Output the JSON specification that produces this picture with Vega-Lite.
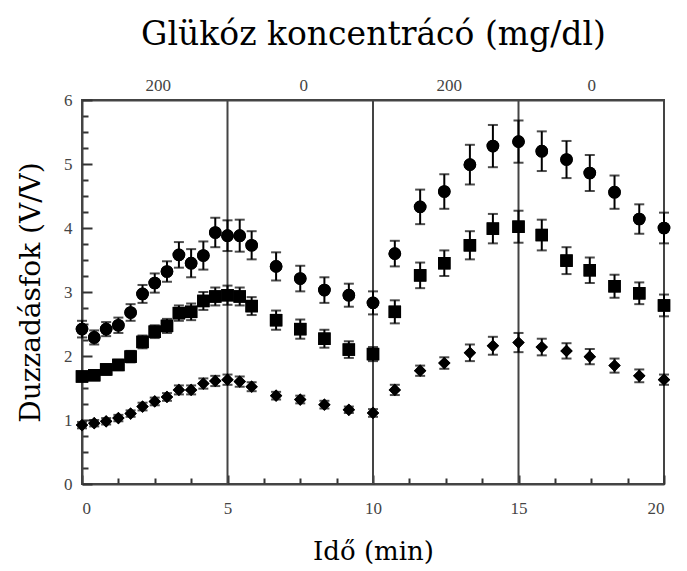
{
  "$schema": "https://vega.github.io/schema/vega-lite/v6.json",
  "autosize": "none",
  "width": 582,
  "height": 384,
  "padding": {"left": 82, "top": 100, "right": 23, "bottom": 87},
  "background": "white",
  "config": {
    "view": {"stroke": "#444", "strokeWidth": 2},
    "axis": {"domainColor": "#444", "domainWidth": 2, "tickColor": "#444", "tickWidth": 2, "tickOpacity": 1, "grid": false,
      "labelFont": "Liberation Serif", "labelFontSize": 17, "labelColor": "#444",
      "titleFont": "DejaVu Serif", "titleFontSize": 28, "titleFontWeight": "normal", "titleColor": "black"}
  },
  "datasets": {
    "pts": [
      {"s": "circle", "t": 0, "v": 2.42, "e": 0.13}, {"s": "circle", "t": 0.42, "v": 2.29, "e": 0.11}, {"s": "circle", "t": 0.83, "v": 2.42, "e": 0.11},
      {"s": "circle", "t": 1.25, "v": 2.48, "e": 0.12}, {"s": "circle", "t": 1.67, "v": 2.68, "e": 0.13}, {"s": "circle", "t": 2.08, "v": 2.97, "e": 0.14},
      {"s": "circle", "t": 2.5, "v": 3.14, "e": 0.15}, {"s": "circle", "t": 2.92, "v": 3.32, "e": 0.16}, {"s": "circle", "t": 3.33, "v": 3.58, "e": 0.2},
      {"s": "circle", "t": 3.75, "v": 3.45, "e": 0.22}, {"s": "circle", "t": 4.17, "v": 3.57, "e": 0.22}, {"s": "circle", "t": 4.58, "v": 3.93, "e": 0.23},
      {"s": "circle", "t": 5.0, "v": 3.88, "e": 0.24}, {"s": "circle", "t": 5.42, "v": 3.88, "e": 0.25}, {"s": "circle", "t": 5.83, "v": 3.73, "e": 0.22},
      {"s": "circle", "t": 6.67, "v": 3.40, "e": 0.22}, {"s": "circle", "t": 7.5, "v": 3.21, "e": 0.2}, {"s": "circle", "t": 8.33, "v": 3.03, "e": 0.2},
      {"s": "circle", "t": 9.17, "v": 2.95, "e": 0.18}, {"s": "circle", "t": 10.0, "v": 2.83, "e": 0.18}, {"s": "circle", "t": 10.75, "v": 3.60, "e": 0.2},
      {"s": "circle", "t": 11.62, "v": 4.33, "e": 0.27}, {"s": "circle", "t": 12.45, "v": 4.57, "e": 0.27}, {"s": "circle", "t": 13.33, "v": 4.99, "e": 0.31},
      {"s": "circle", "t": 14.12, "v": 5.28, "e": 0.33}, {"s": "circle", "t": 15.0, "v": 5.35, "e": 0.33}, {"s": "circle", "t": 15.8, "v": 5.20, "e": 0.31},
      {"s": "circle", "t": 16.65, "v": 5.07, "e": 0.29}, {"s": "circle", "t": 17.45, "v": 4.86, "e": 0.28}, {"s": "circle", "t": 18.3, "v": 4.56, "e": 0.26},
      {"s": "circle", "t": 19.15, "v": 4.14, "e": 0.23}, {"s": "circle", "t": 20.0, "v": 4.0, "e": 0.24},
      {"s": "square", "t": 0, "v": 1.68, "e": 0.07}, {"s": "square", "t": 0.42, "v": 1.70, "e": 0.07}, {"s": "square", "t": 0.83, "v": 1.79, "e": 0.08},
      {"s": "square", "t": 1.25, "v": 1.86, "e": 0.08}, {"s": "square", "t": 1.67, "v": 1.99, "e": 0.09}, {"s": "square", "t": 2.08, "v": 2.22, "e": 0.1},
      {"s": "square", "t": 2.5, "v": 2.38, "e": 0.1}, {"s": "square", "t": 2.92, "v": 2.47, "e": 0.11}, {"s": "square", "t": 3.33, "v": 2.67, "e": 0.12},
      {"s": "square", "t": 3.75, "v": 2.69, "e": 0.13}, {"s": "square", "t": 4.17, "v": 2.86, "e": 0.14}, {"s": "square", "t": 4.58, "v": 2.93, "e": 0.14},
      {"s": "square", "t": 5.0, "v": 2.95, "e": 0.15}, {"s": "square", "t": 5.42, "v": 2.93, "e": 0.14}, {"s": "square", "t": 5.83, "v": 2.78, "e": 0.14},
      {"s": "square", "t": 6.67, "v": 2.56, "e": 0.15}, {"s": "square", "t": 7.5, "v": 2.42, "e": 0.15}, {"s": "square", "t": 8.33, "v": 2.27, "e": 0.14},
      {"s": "square", "t": 9.17, "v": 2.10, "e": 0.13}, {"s": "square", "t": 10.0, "v": 2.03, "e": 0.11}, {"s": "square", "t": 10.75, "v": 2.69, "e": 0.18},
      {"s": "square", "t": 11.62, "v": 3.26, "e": 0.2}, {"s": "square", "t": 12.45, "v": 3.45, "e": 0.2}, {"s": "square", "t": 13.33, "v": 3.73, "e": 0.22},
      {"s": "square", "t": 14.12, "v": 3.99, "e": 0.23}, {"s": "square", "t": 15.0, "v": 4.02, "e": 0.25}, {"s": "square", "t": 15.8, "v": 3.89, "e": 0.24},
      {"s": "square", "t": 16.65, "v": 3.49, "e": 0.21}, {"s": "square", "t": 17.45, "v": 3.34, "e": 0.2}, {"s": "square", "t": 18.3, "v": 3.09, "e": 0.18},
      {"s": "square", "t": 19.15, "v": 2.98, "e": 0.17}, {"s": "square", "t": 20.0, "v": 2.79, "e": 0.17},
      {"s": "diamond", "t": 0, "v": 0.92, "e": 0.05}, {"s": "diamond", "t": 0.42, "v": 0.95, "e": 0.05}, {"s": "diamond", "t": 0.83, "v": 0.98, "e": 0.05},
      {"s": "diamond", "t": 1.25, "v": 1.03, "e": 0.05}, {"s": "diamond", "t": 1.67, "v": 1.10, "e": 0.05}, {"s": "diamond", "t": 2.08, "v": 1.21, "e": 0.06},
      {"s": "diamond", "t": 2.5, "v": 1.29, "e": 0.06}, {"s": "diamond", "t": 2.92, "v": 1.36, "e": 0.06}, {"s": "diamond", "t": 3.33, "v": 1.47, "e": 0.07},
      {"s": "diamond", "t": 3.75, "v": 1.47, "e": 0.07}, {"s": "diamond", "t": 4.17, "v": 1.57, "e": 0.08}, {"s": "diamond", "t": 4.58, "v": 1.61, "e": 0.08},
      {"s": "diamond", "t": 5.0, "v": 1.63, "e": 0.08}, {"s": "diamond", "t": 5.42, "v": 1.60, "e": 0.08}, {"s": "diamond", "t": 5.83, "v": 1.52, "e": 0.07},
      {"s": "diamond", "t": 6.67, "v": 1.38, "e": 0.06}, {"s": "diamond", "t": 7.5, "v": 1.32, "e": 0.06}, {"s": "diamond", "t": 8.33, "v": 1.24, "e": 0.06},
      {"s": "diamond", "t": 9.17, "v": 1.16, "e": 0.05}, {"s": "diamond", "t": 10.0, "v": 1.11, "e": 0.06}, {"s": "diamond", "t": 10.75, "v": 1.47, "e": 0.08},
      {"s": "diamond", "t": 11.62, "v": 1.77, "e": 0.08}, {"s": "diamond", "t": 12.45, "v": 1.89, "e": 0.09}, {"s": "diamond", "t": 13.33, "v": 2.05, "e": 0.13},
      {"s": "diamond", "t": 14.12, "v": 2.16, "e": 0.14}, {"s": "diamond", "t": 15.0, "v": 2.21, "e": 0.15}, {"s": "diamond", "t": 15.8, "v": 2.14, "e": 0.13},
      {"s": "diamond", "t": 16.65, "v": 2.08, "e": 0.12}, {"s": "diamond", "t": 17.45, "v": 1.99, "e": 0.12}, {"s": "diamond", "t": 18.3, "v": 1.85, "e": 0.11},
      {"s": "diamond", "t": 19.15, "v": 1.69, "e": 0.1}, {"s": "diamond", "t": 20.0, "v": 1.63, "e": 0.08}
    ],
    "lines": [{"t": 5}, {"t": 10}, {"t": 15}]
  },
  "resolve": {"axis": {"x": "independent", "y": "independent"}},
  "layer": [
    {
      "data": {"name": "lines"},
      "mark": {"type": "rule", "color": "#444", "strokeWidth": 2},
      "encoding": {
        "x": {"field": "t", "type": "quantitative", "scale": {"domain": [0, 20], "nice": false},
          "axis": {"orient": "top", "title": "Glükóz koncentrácó (mg/dl)", "titleFontSize": 33, "titlePadding": 25, "values": [2.6, 7.6, 12.6, 17.5],
            "labelExpr": "datum.value < 5 || (datum.value > 10 && datum.value < 15) ? '200' : '0'", "ticks": false, "tickSize": 0, "labelPadding": 6, "domain": true}}
      }
    },
    {
      "data": {"name": "pts"},
      "mark": {"type": "errorbar", "ticks": {"size": 10, "thickness": 2, "color": "black"}, "rule": {"strokeWidth": 2, "color": "black"}},
      "encoding": {
        "x": {"field": "t", "type": "quantitative", "axis": {"orient": "bottom", "title": null, "labels": false, "domain": false, "ticks": true, "offset": -6,
            "tickColor": "#333", "tickWidth": 2, "tickOpacity": 1,
            "encode": {"ticks": {"update": {"stroke": {"value": "#333"}, "strokeOpacity": {"value": 1}, "strokeWidth": {"value": 2}}}},
            "values": [1.25, 2.5, 3.75, 6.25, 7.5, 8.75, 11.25, 12.5, 13.75, 16.25, 17.5, 18.75], "tickSize": 6}},
        "y": {"field": "v", "type": "quantitative", "axis": {"orient": "left", "title": null, "labels": false, "domain": false, "ticks": true, "offset": -6,
            "tickColor": "#333", "tickWidth": 2, "tickOpacity": 1,
            "encode": {"ticks": {"update": {"stroke": {"value": "#333"}, "strokeOpacity": {"value": 1}, "strokeWidth": {"value": 2}}}},
            "values": [0.25, 0.5, 0.75, 1.25, 1.5, 1.75, 2.25, 2.5, 2.75, 3.25, 3.5, 3.75, 4.25, 4.5, 4.75, 5.25, 5.5, 5.75], "tickSize": 6}},
        "yError": {"field": "e"},
        "detail": {"field": "s"}
      }
    },
    {
      "data": {"name": "pts"},
      "mark": {"type": "point", "filled": true, "color": "black", "opacity": 1},
      "encoding": {
        "x": {"field": "t", "type": "quantitative", "scale": {"domain": [0, 20], "nice": false},
          "axis": {"orient": "bottom", "title": "Idő (min)", "titleFontSize": 26, "titlePadding": 22,
            "values": [0, 5, 10, 15, 20], "format": "d", "ticks": false, "tickSize": 0, "labelPadding": 16}},
        "y": {"field": "v", "type": "quantitative", "scale": {"domain": [0, 6], "nice": false},
          "axis": {"orient": "left", "title": "Duzzadásfok (V/V)", "titlePadding": 18,
            "values": [0, 1, 2, 3, 4, 5, 6], "format": "d", "ticks": false, "tickSize": 0, "labelPadding": 10}},
        "shape": {"field": "s", "type": "nominal", "scale": {"domain": ["circle", "square", "diamond"], "range": ["circle", "square", "diamond"]}, "legend": null},
        "size": {"field": "s", "type": "nominal", "scale": {"domain": ["circle", "square", "diamond"], "range": [160, 150, 110]}, "legend": null}
      }
    },
    {
      "data": {"name": "pts"},
      "mark": {"type": "point", "filled": true, "color": "black", "opacity": 1},
      "encoding": {
        "x": {"field": "t", "type": "quantitative",
          "axis": {"orient": "bottom", "title": null, "labels": false, "domain": false, "ticks": true, "offset": -9, "values": [0, 5, 10, 15, 20], "tickSize": 9,
            "tickColor": "#333", "tickWidth": 2, "tickOpacity": 1,
            "encode": {"ticks": {"update": {"stroke": {"value": "#333"}, "strokeOpacity": {"value": 1}, "strokeWidth": {"value": 2}}}}}},
        "y": {"field": "v", "type": "quantitative",
          "axis": {"orient": "left", "title": null, "labels": false, "domain": false, "ticks": true, "offset": -10, "values": [0, 1, 2, 3, 4, 5, 6], "tickSize": 10,
            "tickColor": "#333", "tickWidth": 2, "tickOpacity": 1,
            "encode": {"ticks": {"update": {"stroke": {"value": "#333"}, "strokeOpacity": {"value": 1}, "strokeWidth": {"value": 2}}}}}},
        "shape": {"field": "s", "type": "nominal", "legend": null},
        "size": {"field": "s", "type": "nominal", "legend": null}
      }
    }
  ]
}
